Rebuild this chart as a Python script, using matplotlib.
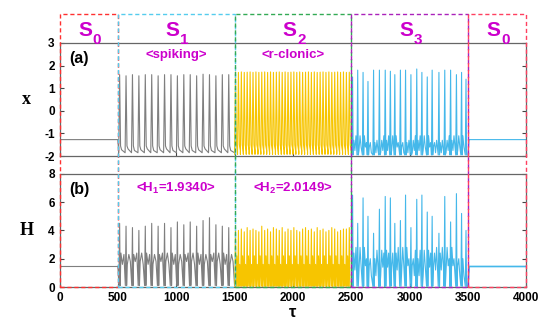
import numpy as np
import matplotlib.pyplot as plt
from matplotlib.patches import Rectangle

plt.rcParams['font.family'] = ['Liberation Sans', 'DejaVu Sans']
plt.rcParams['mathtext.fontset'] = 'custom'
plt.rcParams['mathtext.rm'] = 'Liberation Sans:bold'
plt.rcParams['mathtext.bf'] = 'Liberation Sans:bold'
plt.rcParams['mathtext.it'] = 'Liberation Sans:bold'
plt.rcParams['mathtext.default'] = 'bf'
plt.rcParams['axes.unicode_minus'] = False

# ---- data ----
# resting level of the two quiescent phases
rest_x = [-1.27, -1.27]
rest_H = [1.45, 1.45]

# S1 : spiking (gray)
s1_t = [512, 567, 622, 677, 732, 787, 842, 897, 952, 1007, 1062, 1117, 1172,
        1227, 1282, 1337, 1392, 1447]
s1_x = [1.6, 1.55, 1.6, 1.55, 1.6, 1.6, 1.55, 1.6, 1.6, 1.55, 1.6, 1.6, 1.55,
        1.62, 1.6, 1.55, 1.6, 1.6]
s1_H = [4.5, 4.3, 4.2, 4.0, 4.3, 4.5, 4.3, 4.5, 4.2, 4.6, 4.4, 4.6, 4.3, 4.7,
        4.9, 4.4, 4.3, 4.2]

# S2 : r-clonic (gold)
s2_t = [1505, 1530, 1555, 1580, 1605, 1630, 1655, 1680, 1705, 1730, 1755, 1780,
        1805, 1830, 1855, 1880, 1905, 1930, 1955, 1980, 2005, 2030, 2055, 2080,
        2105, 2130, 2155, 2180, 2205, 2230, 2255, 2280, 2305, 2330, 2355, 2380,
        2405, 2430, 2455, 2480]
s2_x = [1.72, 1.7, 1.72, 1.7, 1.71, 1.72, 1.7, 1.72, 1.7, 1.71, 1.72, 1.7,
        1.72, 1.7, 1.71, 1.72, 1.7, 1.72, 1.7, 1.71, 1.72, 1.7, 1.72, 1.7,
        1.71, 1.72, 1.7, 1.72, 1.7, 1.71, 1.72, 1.7, 1.72, 1.7, 1.71, 1.72,
        1.7, 1.72, 1.7, 1.71]
s2_H = [4.1, 4.0, 4.1, 3.9, 4.2, 4.0, 4.1, 4.0, 3.9, 4.3, 4.0, 4.1, 3.9, 4.2,
        4.1, 4.0, 4.2, 3.9, 4.1, 4.0, 4.2, 4.0, 3.9, 4.1, 4.2, 4.0, 4.1, 3.9,
        4.2, 4.0, 4.1, 3.9, 4.0, 4.2, 4.1, 3.9, 4.0, 4.1, 4.1, 4.2]

# S3 : irregular bursting (light blue)
s3_t = [2508, 2552, 2598, 2640, 2688, 2738, 2788, 2832, 2870, 2918, 2962, 3008,
        3058, 3102, 3148, 3190, 3248, 3298, 3348, 3398, 3442, 3480]
s3_x = [1.5, 1.8, 1.7, 1.3, 1.8, 1.8, 1.8, 1.75, 1.6, 1.8, 1.8, 1.6, 1.85,
        1.7, 1.5, 1.8, 1.7, 1.8, 1.8, 1.6, 1.7, 1.4]
s3_H = [6.5, 4.5, 6.3, 5.0, 3.8, 5.5, 6.4, 6.3, 4.5, 4.7, 6.5, 4.2, 6.2, 6.5,
        5.3, 5.0, 3.8, 6.4, 4.6, 6.6, 5.2, 4.0]

phase_edges = [0, 500, 1500, 2500, 3500, 4000]
phase_subs = ['0', '1', '2', '3', '0']
phase_colors = ['#ff3030', '#55ccee', '#33aa55', '#aa22bb', '#ff4060']

gray = '#7f7f7f'
gold = '#f7c500'
blue = '#45b8ea'
magenta = '#cc00cc'


def spike_train(times, peaks, trough, foot, end):
    # vertices of a spike train: trough -> peak -> fast fall -> slow foot
    t, v = [], []
    for i, (ti, pk) in enumerate(zip(times, peaks)):
        t += [ti - 5, ti + 3, ti + 11, ti + 20]
        v += [trough[0], pk, trough[1], foot[i % len(foot)]]
    t.append(end)
    v.append(trough[0])
    return np.array(t), np.array(v)


def wiggle_train(times, peaks, low, wig, end, step=8):
    t, v = [], []
    for i, ti in enumerate(times):
        nxt = times[i + 1] if i + 1 < len(times) else end
        t += [ti - 3, ti + 3, ti + 8]
        v += [low, peaks[i], low]
        k = 0
        tt = ti + 14
        while tt < nxt - 8:
            t.append(tt)
            v.append(wig[(i + k) % len(wig)])
            tt += step
            k += 1
    t.append(end)
    v.append(low)
    return np.array(t), np.array(v)


fig = plt.figure(figsize=(5.46, 3.28), dpi=100)
L, W = 0.109, 0.855
ax1 = fig.add_axes([L, 0.524, W, 0.345])
ax2 = fig.add_axes([L, 0.125, W, 0.345])

lw = 0.8
# ---- panel (a) ----
ax1.plot([0, 3, 8, 500], [-1.5, -1.3, rest_x[0], rest_x[0]], color=gray, lw=lw)
t, v = spike_train(s1_t, s1_x, (-1.85, -1.55), [-1.72, -1.68, -1.75], 1500)
ax1.plot(np.r_[500, t], np.r_[rest_x[0], v], color=gray, lw=lw)
t, v = spike_train(s2_t, s2_x, (-1.92, -1.5), [-1.8, -1.75, -1.85], 2500)
ax1.plot(t, v, color=gold, lw=lw)
t, v = wiggle_train(s3_t, s3_x, -1.95, [-1.3, -1.75, -1.1, -1.6, -1.4, -1.85], 3500, 9)
ax1.plot(t, v, color=blue, lw=lw)
ax1.plot([3500, 3510, 4000], [-1.9, rest_x[1], rest_x[1]], color=blue, lw=lw)

# ---- panel (b) ----
ax2.plot([0, 5, 10, 500], [0.0, 1.2, rest_H[0], rest_H[0]], color=gray, lw=lw)
t, v = wiggle_train(s1_t, s1_H, 0.1, [2.4, 1.6, 2.3, 1.8], 1500, 13)
ax2.plot(np.r_[500, t], np.r_[rest_H[0], v], color=gray, lw=lw)
t, v = wiggle_train(s2_t, s2_H, 0.05, [2.2, 1.6], 2500)
ax2.plot(t, v, color=gold, lw=lw)
t, v = wiggle_train(s3_t, s3_H, 0.05, [2.4, 1.2, 2.8, 1.5, 2.0, 0.8, 2.6, 1.4], 3500, 9)
ax2.plot(t, v, color=blue, lw=lw)
ax2.plot([3500, 3510, 4000], [0.1, rest_H[1], rest_H[1]], color=blue, lw=1.2)

for ax, yl, ticks, lab in [(ax1, (-2, 3), range(-2, 4), 'x'),
                           (ax2, (0, 8), range(0, 9, 2), 'H')]:
    ax.set_xlim(0, 4000)
    ax.set_ylim(*yl)
    ax.set_yticks(list(ticks))
    ax.set_xticks(range(0, 4001, 500))
    ax.tick_params(direction='in', length=3, width=0.8, right=True,
                   colors='#444444', labelcolor='black', labelsize=8.5)
    for lbl in ax.get_xticklabels() + ax.get_yticklabels():
        lbl.set_fontweight('bold')
    for s in ax.spines.values():
        s.set_color('#666666')
        s.set_linewidth(0.9)
    ax.set_ylabel(lab, rotation=0, fontsize=13, fontweight='bold',
                  family='Liberation Serif', va='center')
    ax.yaxis.set_label_coords(-0.07, 0.5)
ax1.tick_params(labelbottom=False)
ax2.set_xlabel(r'$\mathbf{\tau}$', fontsize=12, labelpad=1)

ax1.text(80, 2.3, '(a)', fontsize=11.5, fontweight='bold', va='center')
ax2.text(80, 6.9, '(b)', fontsize=11.5, fontweight='bold', va='center')
ax1.text(1000, 2.45, '<spiking>', color=magenta, fontsize=9.5,
         fontweight='bold', ha='center', va='center')
ax1.text(2000, 2.45, '<r-clonic>', color=magenta, fontsize=9.5,
         fontweight='bold', ha='center', va='center')
ax2.text(1000, 7.0, r'<H$_1$=1.9340>', color=magenta, fontsize=9.5,
         fontweight='bold', ha='center', va='center')
ax2.text(2000, 7.0, r'<H$_2$=2.0149>', color=magenta, fontsize=9.5,
         fontweight='bold', ha='center', va='center')

# dashed phase boxes spanning both panels
ov = fig.add_axes([L, 0.125, W, 0.832])
ov.set_xlim(0, 4000)
ov.set_ylim(0, 1)
ov.axis('off')
for i, (sub, col) in enumerate(zip(phase_subs, phase_colors)):
    x0, x1 = phase_edges[i], phase_edges[i + 1]
    ov.add_patch(Rectangle((x0, 0), x1 - x0, 1, fill=False, ec=col,
                           ls=(0, (3, 2)), lw=1.0, clip_on=False))
    xc = (x0 + x1) / 2
    ov.text(xc + 30, 0.94, 'S', color=magenta, fontsize=15, fontweight='bold',
            ha='right', va='center')
    ov.text(xc + 35, 0.905, sub, color=magenta, fontsize=11, fontweight='bold',
            ha='left', va='center')

fig.savefig('out.png', dpi=100)
